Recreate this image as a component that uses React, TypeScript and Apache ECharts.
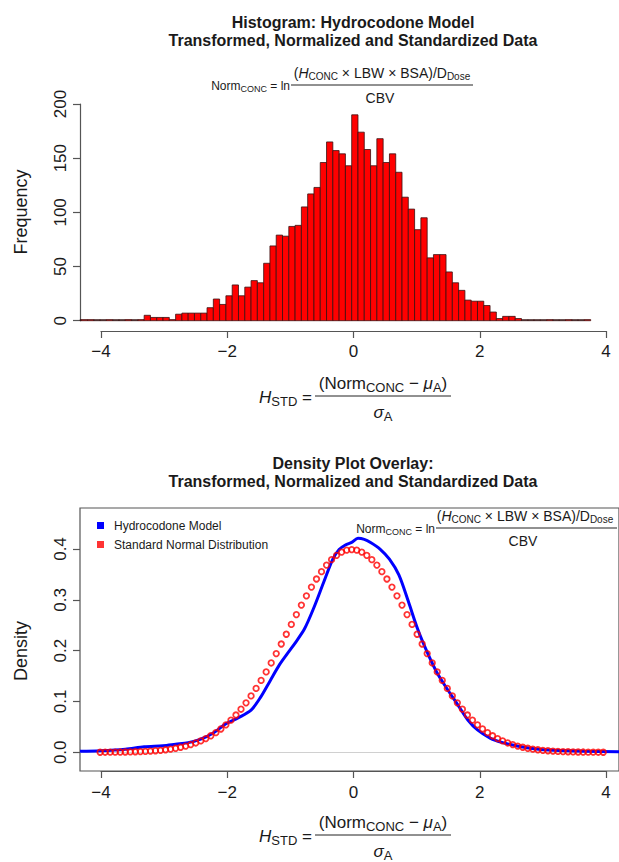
import React, { useEffect, useRef } from "react";
import * as echarts from "echarts";

const FONT = "Liberation Sans, Arial, sans-serif";

// ---- Histogram data (bin start, width 0.1) ----
const histBinStart = [
  -4.4, -4.3, -4.2, -4.1, -4.0, -3.9, -3.8, -3.7, -3.6, -3.5, -3.4, -3.3, -3.2, -3.1, -3.0, -2.9,
  -2.8, -2.7, -2.6, -2.5, -2.4, -2.3, -2.2, -2.1, -2.0, -1.9, -1.8, -1.7, -1.6, -1.5, -1.4, -1.3,
  -1.2, -1.1, -1.0, -0.9, -0.8, -0.7, -0.6, -0.5, -0.4, -0.3, -0.2, -0.1, 0.0, 0.1, 0.2, 0.3,
  0.4, 0.5, 0.6, 0.7, 0.8, 0.9, 1.0, 1.1, 1.2, 1.3, 1.4, 1.5, 1.6, 1.7, 1.8, 1.9,
  2.0, 2.1, 2.2, 2.3, 2.4, 2.5, 2.6, 2.7, 2.8, 2.9, 3.0, 3.1, 3.2, 3.3, 3.4, 3.5, 3.6, 3.7,
];
const histCounts = [
  0, 1, 1, 0, 0, 1, 0, 0, 1, 0, 1, 5, 3, 3, 3, 1,
  6, 7, 7, 7, 7, 12, 20, 15, 23, 33, 23, 31, 37, 35, 53, 69,
  79, 78, 87, 88, 105, 117, 123, 146, 165, 157, 154, 143, 190, 174, 158, 143,
  168, 146, 154, 137, 114, 103, 84, 95, 58, 61, 61, 45, 35, 28, 19, 18,
  18, 14, 8, 2, 4, 4, 2, 0, 0, 0, 0, 1, 0, 0, 1, 0, 0, 1,
];
const BIN_WIDTH = 0.1;

// ---- Density: Hydrocodone model ----
const modelX = [
  -4.32, -4.0, -3.6, -3.3, -3.0, -2.8, -2.6, -2.4, -2.2, -2.0, -1.8, -1.6, -1.45, -1.3, -1.15, -1.0,
  -0.9, -0.75, -0.6, -0.45, -0.3, -0.2, -0.1, 0.0, 0.1, 0.2, 0.3, 0.45, 0.6, 0.75, 0.9, 1.05,
  1.2, 1.35, 1.5, 1.7, 1.85, 2.0, 2.2, 2.4, 2.65, 2.9, 3.2, 3.7, 4.25,
];
const modelDensity = [
  0.002, 0.003, 0.006, 0.011, 0.013, 0.016, 0.019, 0.026, 0.038, 0.056, 0.068, 0.083, 0.108, 0.14, 0.172, 0.198,
  0.215, 0.243, 0.285, 0.333, 0.38, 0.399, 0.408, 0.413, 0.421, 0.419, 0.413, 0.4, 0.38, 0.349, 0.297, 0.242,
  0.197, 0.158, 0.128, 0.091, 0.063, 0.044, 0.028, 0.019, 0.012, 0.007, 0.004, 0.002, 0.001,
];

// ---- Density: standard normal (points) ----
const normalX = [
  -4, -3.92, -3.84, -3.76, -3.68, -3.6, -3.52, -3.44, -3.36, -3.28, -3.2, -3.12, -3.04, -2.96, -2.88, -2.8,
  -2.72, -2.64, -2.56, -2.48, -2.4, -2.32, -2.24, -2.16, -2.08, -2, -1.92, -1.84, -1.76, -1.68, -1.6, -1.52,
  -1.44, -1.36, -1.28, -1.2, -1.12, -1.04, -0.96, -0.88, -0.8, -0.72, -0.64, -0.56, -0.48, -0.4, -0.32, -0.24,
  -0.16, -0.08, 0, 0.08, 0.16, 0.24, 0.32, 0.4, 0.48, 0.56, 0.64, 0.72, 0.8, 0.88, 0.96, 1.04,
  1.12, 1.2, 1.28, 1.36, 1.44, 1.52, 1.6, 1.68, 1.76, 1.84, 1.92, 2, 2.08, 2.16, 2.24, 2.32,
  2.4, 2.48, 2.56, 2.64, 2.72, 2.8, 2.88, 2.96, 3.04, 3.12, 3.2, 3.28, 3.36, 3.44, 3.52, 3.6,
  3.68, 3.76, 3.84, 3.92, 4,
];
const normalDensity = [
  0.0001, 0.0002, 0.0003, 0.0003, 0.0005, 0.0006, 0.0008, 0.0011, 0.0014, 0.0018, 0.0024, 0.0031, 0.0039, 0.005, 0.0063, 0.0079,
  0.0099, 0.0122, 0.0151, 0.0184, 0.0224, 0.027, 0.0325, 0.0387, 0.0459, 0.054, 0.0632, 0.0734, 0.0848, 0.0973, 0.1109, 0.1257,
  0.1415, 0.1582, 0.1758, 0.1942, 0.2131, 0.2323, 0.2516, 0.2709, 0.2897, 0.3078, 0.3251, 0.341, 0.3555, 0.3683, 0.379, 0.3876,
  0.3939, 0.3977, 0.3989, 0.3977, 0.3939, 0.3876, 0.379, 0.3683, 0.3555, 0.341, 0.3251, 0.3078, 0.2897, 0.2709, 0.2516, 0.2323,
  0.2131, 0.1942, 0.1758, 0.1582, 0.1415, 0.1257, 0.1109, 0.0973, 0.0848, 0.0734, 0.0632, 0.054, 0.0459, 0.0387, 0.0325, 0.027,
  0.0224, 0.0184, 0.0151, 0.0122, 0.0099, 0.0079, 0.0063, 0.005, 0.0039, 0.0031, 0.0024, 0.0018, 0.0014, 0.0011, 0.0008, 0.0006,
  0.0005, 0.0003, 0.0003, 0.0002, 0.0001,
];

const xTickValues = { min: -4, max: 4, interval: 2 };
const freqTicks = { min: 0, max: 200, interval: 50 };
const densTicks = { min: 0, max: 0.4, interval: 0.1 };

const TXT = "#1a1a1a";
const AXC = "#555";

const minusFmt = (v: number) => (v < 0 ? "\u2212" + Math.abs(v) : String(v));

function text(x: number, y: number, t: string, extra: any = {}, rich?: any) {
  return {
    type: "text",
    x,
    y,
    silent: true,
    style: {
      text: t,
      fontFamily: FONT,
      fill: TXT,
      align: "center",
      verticalAlign: "middle",
      ...extra,
      ...(rich ? { rich } : {}),
    },
  };
}

function hLine(x1: number, x2: number, y: number) {
  return { type: "line", silent: true, shape: { x1, y1: y, x2, y2: y }, style: { stroke: "#222", lineWidth: 1 } };
}

function normFormula(rightX: number, numCx: number, lineY: number, lineX2: number) {
  return [
    text(rightX, lineY + 1, "{a|Norm}{s|CONC}{a| = ln}", { align: "right" }, {
      a: { fontSize: 12, fontFamily: FONT, fill: TXT },
      s: { fontSize: 9, fontFamily: FONT, fill: TXT, padding: [6, 0, 0, 0] },
    }),
    text(numCx, lineY - 12, "{a|(}{i|H}{s|CONC}{a| \u00d7 LBW \u00d7 BSA)/D}{s|Dose}", {}, {
      a: { fontSize: 14, fontFamily: FONT, fill: TXT },
      i: { fontSize: 14, fontFamily: FONT, fill: TXT, fontStyle: "italic" },
      s: { fontSize: 10, fontFamily: FONT, fill: TXT, padding: [7, 0, 0, 0] },
    }),
    hLine(rightX + 1, lineX2, lineY),
    text(numCx - 2, lineY + 13, "CBV", { fontSize: 14 }),
  ];
}

function hstdFormula(lineY: number) {
  const rich = {
    a: { fontSize: 17, fontFamily: FONT, fill: TXT },
    i: { fontSize: 17, fontFamily: FONT, fill: TXT, fontStyle: "italic" },
    s: { fontSize: 13, fontFamily: FONT, fill: TXT, padding: [8, 0, 0, 0] },
  };
  return [
    text(312, lineY + 1, "{i|H}{s|STD}{a| =}", { align: "right" }, rich),
    text(383, lineY - 13, "{a|(Norm}{s|CONC}{a| \u2212 }{i|\u03bc}{s|A}{a|)}", {}, rich),
    hLine(315, 451, lineY),
    text(383, lineY + 16, "{i|\u03c3}{s|A}", {}, rich),
  ];
}

export default function App() {
  const ref = useRef<HTMLDivElement>(null);

  useEffect(() => {
    if (!ref.current) return;
    const chart = echarts.init(ref.current, undefined, { renderer: "svg" });

    const histData = histCounts.map((c, i) => [histBinStart[i], histBinStart[i] + BIN_WIDTH, c]);
    const modelData = modelX.map((x, i) => [x, modelDensity[i]]);
    const normalData = normalX.map((x, i) => [x, normalDensity[i]]);

    const axisLineStyle = { onZero: false, lineStyle: { color: AXC, width: 1.2 } };
    const tickStyle = { inside: false, length: 7, lineStyle: { color: AXC, width: 1.2 } };
    const labelBase = { color: TXT, fontFamily: FONT, fontSize: 17 };

    const hiddenX = (gridIndex: number) => ({
      type: "value", gridIndex, min: -4.32, max: 4.25, show: false, splitLine: { show: false },
      axisLine: { onZero: false },
    });

    const option: any = {
      animation: false,
      backgroundColor: "#fff",
      grid: [
        { left: 80, top: 104, width: 541, height: 216.7, show: false },
        { left: 101, top: 104, width: 505, height: 216.7, show: false },
        { left: 80, top: 508, width: 541, height: 263, show: true, borderColor: AXC, borderWidth: 1.2, backgroundColor: "transparent" },
        { left: 101, top: 549, width: 505, height: 203.3, show: false },
      ],
      xAxis: [
        hiddenX(0),
        {
          type: "value", gridIndex: 1, ...xTickValues, position: "bottom", offset: 10.3,
          axisLine: { show: true, ...axisLineStyle }, axisTick: tickStyle,
          axisLabel: { ...labelBase, margin: 12, formatter: minusFmt }, splitLine: { show: false },
        },
        hiddenX(2),
        {
          type: "value", gridIndex: 3, ...xTickValues, position: "bottom", offset: 18.7,
          axisLine: { show: true, ...axisLineStyle }, axisTick: tickStyle,
          axisLabel: { ...labelBase, margin: 13, formatter: minusFmt }, splitLine: { show: false },
        },
      ],
      yAxis: [
        { type: "value", gridIndex: 0, min: 0, max: 200, show: false, splitLine: { show: false }, axisLine: { onZero: false } },
        {
          type: "value", gridIndex: 1, ...freqTicks, position: "left", offset: 21,
          axisLine: { show: true, ...axisLineStyle }, axisTick: tickStyle,
          axisLabel: { ...labelBase, rotate: 90, margin: 11 }, splitLine: { show: false },
        },
        { type: "value", gridIndex: 2, min: -0.0368, max: 0.4807, show: false, splitLine: { show: false }, axisLine: { onZero: false } },
        {
          type: "value", gridIndex: 3, ...densTicks, position: "left", offset: 21,
          axisLine: { show: false, onZero: false }, axisTick: tickStyle,
          axisLabel: { ...labelBase, rotate: 90, margin: 11, formatter: (v: number) => v.toFixed(1) },
          splitLine: { show: false },
        },
      ],
      legend: {
        left: 92,
        top: 514,
        orient: "vertical",
        itemWidth: 7,
        itemHeight: 7,
        itemGap: 6,
        textStyle: { color: TXT, fontFamily: FONT, fontSize: 12, lineHeight: 13, padding: [0, 0, 0, 5] },
        data: [
          { name: "Hydrocodone Model", icon: "rect", itemStyle: { color: "#0000ff", borderWidth: 0 } },
          { name: "Standard Normal Distribution", icon: "rect", itemStyle: { color: "#ff0000", borderWidth: 0 } },
        ],
      },
      series: [
        {
          type: "custom",
          name: "Frequency",
          xAxisIndex: 0,
          yAxisIndex: 0,
          encode: { x: [0, 1], y: 2 },
          data: histData,
          renderItem: (params: any, api: any) => {
            const x0 = api.value(0);
            const x1 = api.value(1);
            const c = api.value(2);
            const p0 = api.coord([x0, c]);
            const p1 = api.coord([x1, 0]);
            let h = p1[1] - p0[1];
            let y = p0[1];
            if (h < 1) {
              h = 1;
              y = p1[1] - 1;
            }
            const cs = params.coordSys;
            const rect = echarts.graphic.clipRectByRect(
              { x: p0[0], y, width: p1[0] - p0[0], height: h },
              { x: cs.x, y: cs.y - 5, width: cs.width, height: cs.height + 10 }
            );
            if (!rect) return null;
            return {
              type: "rect",
              shape: rect,
              style: { fill: c > 0 ? "#ff0000" : "#444", stroke: "#3a1010", lineWidth: 0.8 },
            };
          },
        },
        {
          type: "line",
          name: "Hydrocodone Model",
          xAxisIndex: 2,
          yAxisIndex: 2,
          data: modelData,
          showSymbol: false,
          smooth: 0.3,
          lineStyle: { color: "#0000ff", width: 3 },
          itemStyle: { color: "#0000ff" },
          z: 2,
          markLine: {
            silent: true,
            symbol: "none",
            label: { show: false },
            lineStyle: { color: "#d0d0d0", width: 1, type: "solid" },
            data: [{ yAxis: 0 }],
            z: 1,
          },
        },
        {
          type: "scatter",
          name: "Standard Normal Distribution",
          xAxisIndex: 2,
          yAxisIndex: 2,
          data: normalData,
          symbol: "circle",
          symbolSize: 5.5,
          itemStyle: { color: "rgba(0,0,0,0)", borderColor: "#ff0000", borderWidth: 1.8 },
          z: 3,
        },
      ],
      graphic: [
        text(353, 22, "Histogram: Hydrocodone Model", { fontSize: 16, fontWeight: "bold" }),
        text(353, 40, "Transformed, Normalized and Standardized Data", { fontSize: 16, fontWeight: "bold" }),
        ...normFormula(290, 382, 85, 473),
        { ...text(21, 212, "Frequency", { fontSize: 18 }), rotation: Math.PI / 2 },
        ...hstdFormula(396),
        text(353, 463, "Density Plot Overlay:", { fontSize: 16, fontWeight: "bold" }),
        text(353, 481, "Transformed, Normalized and Standardized Data", { fontSize: 16, fontWeight: "bold" }),
        ...normFormula(435, 525, 528, 617),
        { ...text(21, 651, "Density", { fontSize: 18 }), rotation: Math.PI / 2 },
        ...hstdFormula(835),
      ],
    };

    chart.setOption(option);
    return () => chart.dispose();
  }, []);

  return (
    <div
      ref={ref}
      style={{ position: "absolute", left: 0, top: 0, width: 619, height: 862, background: "#fff" }}
    />
  );
}
